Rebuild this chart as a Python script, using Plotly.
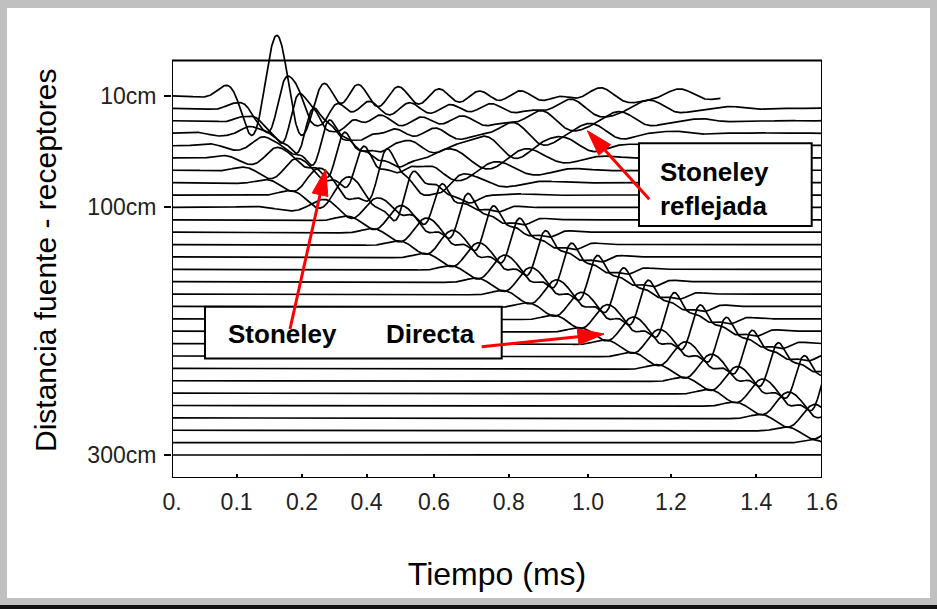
import numpy as np
import plotly.graph_objects as go

# ---------------------------------------------------------------------------
# Receiver array: one wiggle trace per source-receiver offset
# ---------------------------------------------------------------------------
offsets_cm = [10, 20, 30, 40, 50, 60, 70, 80, 90, 100,
              110, 120, 130, 140, 150, 160, 170, 180, 190, 200,
              210, 220, 230, 240, 250, 260, 270, 280, 290, 300]

# Direct Stoneley main pulse per trace: centre time (ms), amplitude (trace
# spacings), gaussian half-width (ms), period (ms), skew (0 symmetric, 1 steep rise)
direct_ms = [0.258, 0.286, 0.315, 0.350, 0.389, 0.426, 0.475, 0.531, 0.595, 0.667,
             0.730, 0.793, 0.857, 0.921, 0.985, 1.049, 1.113, 1.174, 1.238, 1.302,
             1.366, 1.430, 1.494, 1.558, 1.620, 1.684, 1.748, 1.812, 1.876, 1.940]
direct_amp = [4.9, 2.6, 2.2, 2.0, 2.0, 2.0, 2.0, 2.0, 2.0, 2.0,
              2.0, 2.0, 2.0, 2.0, 2.0, 2.0, 2.0, 2.0, 2.0, 2.0,
              2.0, 1.95, 1.95, 1.9, 1.9, 1.85, 1.8, 1.8, 1.75, 1.7]
direct_width_ms = [0.098, 0.100, 0.105, 0.110, 0.110, 0.110, 0.110, 0.110, 0.110, 0.110,
                   0.110, 0.110, 0.110, 0.110, 0.110, 0.110, 0.110, 0.110, 0.110, 0.110,
                   0.110, 0.110, 0.110, 0.110, 0.110, 0.110, 0.110, 0.110, 0.110, 0.110]
direct_period_ms = [0.135, 0.140, 0.150, 0.160, 0.170, 0.180, 0.190, 0.190, 0.190, 0.190,
                    0.190, 0.190, 0.190, 0.190, 0.190, 0.190, 0.190, 0.190, 0.190, 0.190,
                    0.190, 0.190, 0.190, 0.190, 0.190, 0.190, 0.190, 0.190, 0.190, 0.190]
direct_skew = [0.0, 0.2, 0.4, 0.6, 0.8, 1.0, 1.0, 1.0, 1.0, 1.0,
               1.0, 1.0, 1.0, 1.0, 1.0, 1.0, 1.0, 1.0, 1.0, 1.0,
               1.0, 1.0, 1.0, 1.0, 1.0, 1.0, 1.0, 1.0, 1.0, 1.0]

# Dispersed wave train running ahead of the main pulse (trace spacings)
precursor_amp = [0.0, 0.0, 0.0, 0.3, 0.5, 0.7, 0.9, 1.0, 1.05, 1.05,
                 1.05, 1.05, 1.05, 1.05, 1.05, 1.05, 1.05, 1.05, 1.05, 1.05,
                 1.05, 1.05, 1.05, 1.05, 1.05, 1.0, 1.0, 0.95, 0.9, 0.9]

# Ringing coda on the nearest receivers (trace spacings)
coda_amp = [1.0, 0.6, 0.45, 0.35, 0.25]

# Up-going reflected Stoneley: centre time (ms) and amplitude (trace spacings)
refl_ms = [1.147, 1.073, 0.999, 0.926, 0.852, 0.778, 0.704, 0.630, 0.556, 0.482]
refl_amp = [0.6, 0.75, 0.85, 0.95, 0.95, 0.9, 0.85, 0.75, 0.6, 0.5]

# Recording length of each trace (ms)
trace_end_ms = [1.35] + [1.6] * 29

# Axis labelling
x_tick_labels = ["0.", "0.1", "0.2", "0.4", "0.6", "0.8", "1.0", "1.2", "1.4", "1.6"]
y_tick_offsets = [10, 100, 300]
y_tick_labels = ["10cm", "100cm", "300cm"]

# ---------------------------------------------------------------------------
# Layout geometry
# ---------------------------------------------------------------------------
W, H = 937, 609
ML, MR, MT, MB = 172, 115, 30, 131
X_RANGE = [0.0, 1.6]
Y_RANGE = [318.56, -43.3]          # reversed: near offsets at the top
FRAME_TOP_CM = -18.68
SPACING_CM = 10.0
x_tick_pos = [0.0, 0.159, 0.320, 0.479, 0.645, 0.829, 1.024, 1.228, 1.438, 1.6]

px_per_ms = (W - ML - MR) / (X_RANGE[1] - X_RANGE[0])
px_per_cm = (H - MT - MB) / (Y_RANGE[0] - Y_RANGE[1])

PRE_LEAD_MS, PRE_WIDTH_MS, PRE_PERIOD_MS = 0.165, 0.125, 0.145


def wave_shape(skew):
    """Periodic waveform with its maximum at phase 0 and unit peak."""
    ph = np.linspace(0, 2 * np.pi, 4000, endpoint=False)
    raw = lambda p: np.sin(p) + skew * (0.5 * np.sin(2 * p) + 0.3 * np.sin(3 * p))
    v = raw(ph)
    p0, peak = ph[np.argmax(v)], v.max()
    return lambda p: raw(p + p0) / peak


def packet(t, centre, amp, width, period, skew):
    f = wave_shape(skew)
    return amp * np.exp(-((t - centre) / width) ** 2) * f(2 * np.pi * (t - centre) / period)


def gabor(t, centre, amp, width, period):
    return amp * np.exp(-((t - centre) / width) ** 2) * np.cos(2 * np.pi * (t - centre) / period)


fig = go.Figure()
for i, off in enumerate(offsets_cm):
    t = np.linspace(X_RANGE[0], trace_end_ms[i], int(1400 * trace_end_ms[i] / 1.6))
    td = direct_ms[i]
    s = packet(t, td, direct_amp[i], direct_width_ms[i], direct_period_ms[i], direct_skew[i])
    if precursor_amp[i]:
        s += gabor(t, td - PRE_LEAD_MS, precursor_amp[i], PRE_WIDTH_MS, PRE_PERIOD_MS)
    if i < len(coda_amp):
        ramp = np.clip((t - td - 0.08) / 0.1, 0, 1)
        s += coda_amp[i] * np.exp(-(t - td - 0.2) / 0.35) * ramp * np.cos(2 * np.pi * (t - td) / 0.1)
    if i < len(refl_ms):
        s += gabor(t, refl_ms[i], -refl_amp[i], 0.22, 0.2)
    fig.add_trace(go.Scatter(x=t, y=off - SPACING_CM * s, mode="lines",
                             line=dict(color="black", width=1.7),
                             hoverinfo="skip", showlegend=False))


def to_data(px, py):
    return (px - ML) / px_per_ms + X_RANGE[0], (py - MT) / px_per_cm + Y_RANGE[1]


def arrow(tail, tip, head_len=26, head_half=8, color="#ff0000"):
    (x0, y0), (x1, y1) = tail, tip
    # work in pixels so the head keeps its shape
    p0 = np.array([(x0 - X_RANGE[0]) * px_per_ms, (y0 - Y_RANGE[1]) * px_per_cm])
    p1 = np.array([(x1 - X_RANGE[0]) * px_per_ms, (y1 - Y_RANGE[1]) * px_per_cm])
    d = (p1 - p0) / np.linalg.norm(p1 - p0)
    n = np.array([-d[1], d[0]])
    base = p1 - d * head_len
    pts = [p1, base + n * head_half, base - n * head_half]
    to_d = lambda p: (p[0] / px_per_ms + X_RANGE[0], p[1] / px_per_cm + Y_RANGE[1])
    bx, by = to_d(base + d * 2)
    fig.add_shape(type="line", x0=x0, y0=y0, x1=bx, y1=by, xref="x", yref="y",
                  line=dict(color=color, width=3))
    path = "M " + " L ".join("{:.5f},{:.4f}".format(*to_d(p)) for p in pts) + " Z"
    fig.add_shape(type="path", path=path, xref="x", yref="y",
                  fillcolor=color, line=dict(color=color, width=1))


PW, PH = W - ML - MR, H - MT - MB
# Page: grey surround, white sheet, dark rule along the bottom edge
fig.add_shape(type="rect", xref="paper", yref="paper",
              x0=(7 - ML) / PW, x1=(930 - ML) / PW,
              y0=(H - MB - 598) / PH, y1=(H - MB - 8) / PH,
              fillcolor="white", line=dict(width=0), layer="below")
fig.add_shape(type="rect", xref="paper", yref="paper",
              x0=-ML / PW, x1=(W - ML) / PW,
              y0=(H - MB - 609) / PH, y1=(H - MB - 605) / PH,
              fillcolor="#111111", line=dict(width=0), layer="below")

# Plot frame
fig.add_shape(type="rect", xref="x", yref="y", x0=X_RANGE[0], x1=X_RANGE[1],
              y0=FRAME_TOP_CM, y1=Y_RANGE[0], line=dict(color="black", width=2),
              fillcolor="rgba(0,0,0,0)", layer="above")

# Label boxes
box1 = to_data(205, 306.7) + to_data(501.7, 358.5)
box2 = to_data(639, 143.3) + to_data(811.7, 226)
for b in (box1, box2):
    fig.add_shape(type="rect", xref="x", yref="y", x0=b[0], y0=b[1], x1=b[2], y1=b[3],
                  fillcolor="white", line=dict(color="black", width=2), layer="above")

arrow(to_data(290, 329), to_data(325.7, 169.3))
arrow(to_data(481.7, 346.7), to_data(604, 334))
arrow(to_data(649.3, 199.3), to_data(587.3, 130.7))

font = "Liberation Sans, Arial, sans-serif"
bold = dict(family=font, size=26, color="black")
for txt, (px, py), anchor in [("<b>Stoneley</b>", (282, 334), "center"),
                              ("<b>Directa</b>", (430, 334), "center"),
                              ("<b>Stoneley<br>reflejada</b>", (658, 189), "left")]:
    x, y = to_data(px, py)
    fig.add_annotation(x=x, y=y, xref="x", yref="y", text=txt, showarrow=False,
                       xanchor=anchor, yanchor="middle", align="left", font=bold)

# Vertical axis title
fig.add_annotation(x=(45 - ML) / PW, y=(H - MB - 260) / PH, xref="paper", yref="paper",
                   text="Distancia fuente - receptores", textangle=-90, showarrow=False,
                   xanchor="center", yanchor="middle",
                   font=dict(family=font, size=30, color="black"))

fig.update_layout(
    width=W, height=H, margin=dict(l=ML, r=MR, t=MT, b=MB, pad=0),
    paper_bgcolor="#c0c0c0", plot_bgcolor="rgba(0,0,0,0)",
    showlegend=False, hovermode=False,
    xaxis=dict(range=X_RANGE, showgrid=False, zeroline=False, showline=False,
               tickmode="array", tickvals=x_tick_pos, ticktext=x_tick_labels,
               ticks="inside", ticklen=4, tickwidth=1.5, tickcolor="black",
               ticklabelstandoff=8,
               tickfont=dict(family=font, size=23, color="#222"),
               title=dict(text="Tiempo (ms)", standoff=48,
                          font=dict(family=font, size=32, color="black"))),
    yaxis=dict(range=Y_RANGE, showgrid=False, zeroline=False, showline=False,
               tickmode="array", tickvals=y_tick_offsets, ticktext=y_tick_labels,
               ticks="outside", ticklen=7, tickwidth=1.5, tickcolor="black",
               ticklabelstandoff=3,
               tickfont=dict(family=font, size=23, color="#222")),
)

fig.write_html("out.html")
